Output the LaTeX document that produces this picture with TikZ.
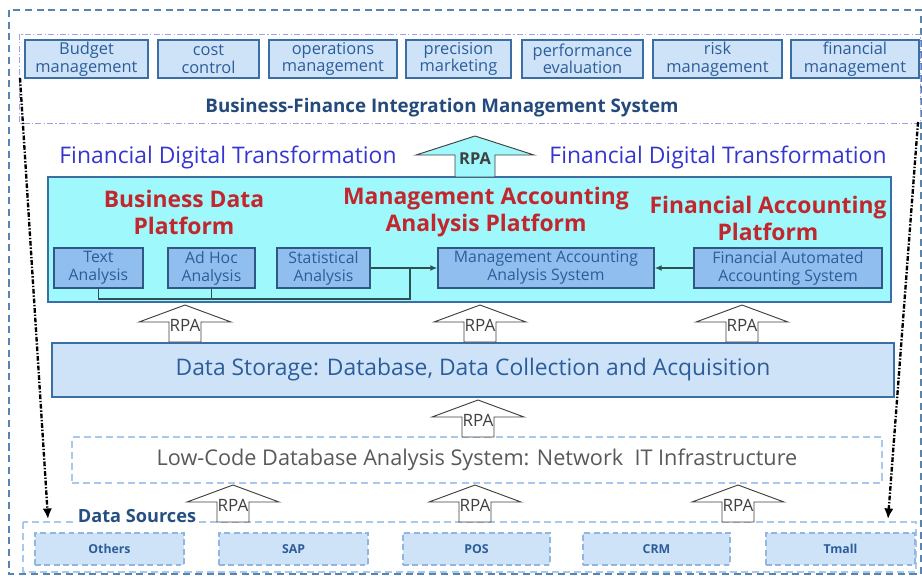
\documentclass[tikz,border=0pt]{standalone}
\usepackage{fontspec}
\setmainfont{Open Sans}
\usetikzlibrary{arrows.meta}
\definecolor{boxline}{HTML}{3B6EA5}
\definecolor{boxfill}{HTML}{CFE3F8}
\definecolor{boxtext}{HTML}{2C5D9A}
\definecolor{cyanfill}{HTML}{9FF8FB}
\definecolor{innerfill}{HTML}{90BFEF}
\definecolor{platred}{HTML}{C1272D}
\definecolor{violettext}{HTML}{3535D0}
\definecolor{lavender}{HTML}{A0A0EE}
\definecolor{lightdash}{HTML}{A8C8EC}
\definecolor{linkgray}{HTML}{2F5050}
\def\px{0.03cm}
\tikzset{
  topbox/.style={draw=boxline, fill=boxfill, line width=1.1pt, text=boxtext, align=center,
    inner sep=0pt, minimum height=38*\px, font=\fontsize{14}{15}\selectfont},
  innerbox/.style={draw=boxline!80!black, fill=innerfill, line width=1.1pt, text=boxtext, align=center,
    inner sep=0pt, minimum height=40*\px, font=\fontsize{13.5}{15.5}\selectfont},
  srcbox/.style={draw=lightdash!80!boxline, dash pattern=on 5pt off 3pt, fill=boxfill, line width=0.9pt,
    text=boxtext, inner sep=0pt, minimum height=32*\px, font=\fontsize{10.5}{12}\selectfont\bfseries},
  lightframe/.style={draw=lightdash, dash pattern=on 6pt off 3.5pt, line width=1pt},
  plathead/.style={text=platred, align=center, font=\fontsize{19.5}{23}\selectfont\bfseries},
  digital/.style={text=violettext, font=\fontsize{19.5}{22}\selectfont},
  rpatext/.style={text=black!75, inner sep=0pt, font=\fontsize{14.5}{16}\selectfont},
  rpaarrow/.style={draw=black!75, line width=0.8pt, fill=white},
  dashdot/.style={line width=2pt, dash pattern=on 4pt off 1.5pt on 1.2pt off 1.5pt, -{Latex[length=9pt,width=8pt]}},
  link/.style={draw=linkgray, line width=1.2pt}
}
\begin{document}
\begin{tikzpicture}[x=0.03cm,y=-0.03cm]
\useasboundingbox (0,0) rectangle (922,577);
% outer frames
\draw[boxline!85, line width=1.2pt, dash pattern=on 6pt off 4pt] (9,10) rectangle (921,574);
\draw[lavender, line width=0.8pt, dash pattern=on 5pt off 2pt on 1pt off 2pt] (19,34) rectangle (920,123);
% management functions
\foreach \cx/\w/\txt/\nm in {86.5/123/{Budget\\management}/budget, 208.5/101/{cost\\control}/cost,
    333/128/{operations\\management}/oper, 458.5/105/{precision\\marketing}/prec,
    582.5/121/{performance\\evaluation}/perf, 717.5/129/{risk\\management}/risk,
    855/128/{financial\\management}/finm}
  \node[topbox, minimum width=\w*\px] (\nm) at (\cx,59) {\txt};
\node[text=boxtext!80!black, font=\fontsize{16}{18}\selectfont\bfseries] (bfims) at (442,108)
  {Business-Finance Integration Management System};
% transformation level
\node[digital] (fdtl) at (228,157) {Financial Digital Transformation};
\node[digital] (fdtr) at (718,157) {Financial Digital Transformation};
\node[draw=boxline, fill=cyanfill, line width=1.1pt, minimum width=843*\px, minimum height=125*\px]
  (platforms) at (469.5,239.5) {};
\draw[rpaarrow, fill=cyanfill] (416,155) -- (475,136) -- (534,155) -- (495,155) -- (495,177)
  -- (455,177) -- (455,155) -- cycle;
\node[rpatext, font=\fontsize{14}{16}\selectfont\bfseries] (rpatop) at (475,159) {RPA};
\node[plathead] (bdp) at (184,212) {Business Data\\Platform};
\node[plathead] (maap) at (486,212) {Management Accounting\\Analysis Platform};
\node[plathead] (fap) at (768,218) {Financial Accounting\\Platform};
\node[innerbox, minimum width=89*\px] (text) at (98.5,268) {Text\\Analysis};
\node[innerbox, minimum width=87*\px] (adhoc) at (211.5,268) {Ad Hoc\\Analysis};
\node[innerbox, minimum width=93*\px] (stat) at (323.5,268) {Statistical\\Analysis};
\node[innerbox, minimum width=216*\px] (maas) at (546,268) {Management Accounting\\Analysis System};
\node[innerbox, minimum width=188*\px] (faas) at (788,268) {Financial Automated\\Accounting System};
\coordinate (jn) at (410,299);
\draw[link] (text.south) |- (jn) -- (jn |- stat.east);
\draw[link] (adhoc.south) -- (adhoc.south |- jn);
\draw[link, -{Latex[length=6pt,width=5pt]}] (stat.east) -- (maas.west);
\draw[link, -{Latex[length=6pt,width=5pt]}] (faas.west) -- (maas.east);
% storage and infrastructure
\node[draw=boxline, fill=boxfill, line width=1.1pt, text=boxtext, minimum width=842*\px,
  minimum height=54*\px, font=\fontsize{19.5}{22}\selectfont] (storage) at (473,370)
  {Data Storage: Database, Data Collection and Acquisition};
\node[lightframe, text=black!65, minimum width=810*\px,
  minimum height=46*\px, font=\fontsize{18.5}{21}\selectfont] (lowcode) at (477,460)
  {Low-Code Database Analysis System: Network\ \ IT Infrastructure};
% data sources
\draw[lightframe] (23,522) rectangle (916,572);
\node[fill=white, inner sep=1pt, text=boxtext!85!black, font=\fontsize{15.5}{17}\selectfont\bfseries]
  (dstitle) at (137,516) {Data Sources};
\foreach \cx/\w/\txt/\nm in {109.5/149/Others/others, 293.5/149/SAP/sap, 476.5/147/POS/pos,
    656.5/147/CRM/crm, 840.5/149/Tmall/tmall}
  \node[srcbox, minimum width=\w*\px] (\nm) at (\cx,549) {\txt};
% RPA arrows
\foreach \cx/\ty/\by in {185/305/342, 480/305/342, 742/305/342, 478/400/437,
    233/485/522, 475/485/522, 738/485/522}
{
  \draw[rpaarrow] (\cx-46,\ty+17) -- (\cx,\ty) -- (\cx+46,\ty+17) -- (\cx+16,\ty+17)
    -- (\cx+16,\by) -- (\cx-16,\by) -- (\cx-16,\ty+17) -- cycle;
  \node[rpatext] at (\cx,\ty+20) {RPA};
}
% feedback arrows
\coordinate (ltop) at (20,78);
\coordinate (lbot) at (48,519);
\coordinate (rtop) at (918,122);
\coordinate (rbot) at (888,519);
\draw[dashdot] (ltop) -- (lbot);
\draw[dashdot] (rtop) -- (rbot);
\end{tikzpicture}
\end{document}
